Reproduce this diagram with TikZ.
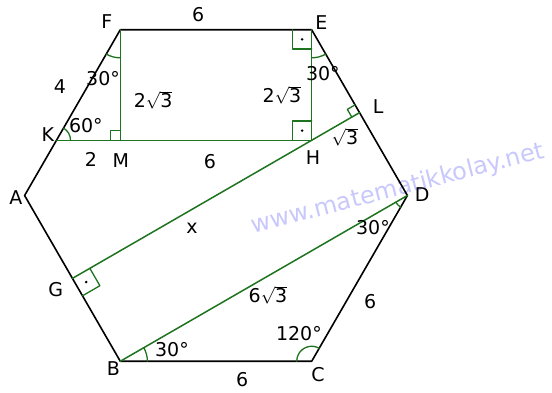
\documentclass[tikz,border=0pt]{standalone}
\usepackage{fontspec}
\setmainfont{DejaVu Sans}
\definecolor{hexgreen}{RGB}{30,115,30}
\definecolor{hexmark}{RGB}{200,200,252}
\newcommand{\rootof}[1]{$\sqrt{\mbox{#1}}$}

\begin{document}
\begin{tikzpicture}[x=31.9pt,y=31.9pt,line cap=round,line join=round,
  font=\fontsize{19}{21}\selectfont,
  side/.style={black,line width=1.6pt},
  seg/.style={hexgreen,line width=1.5pt},
  amark/.style={hexgreen,line width=1.3pt},
  lbl/.style={inner sep=1pt}]
 \useasboundingbox (-6.771,-6.160) rectangle (10.533,6.129);
 \node[rotate=14.5,text=hexmark,font=\fontsize{24}{26}\selectfont] (web) at (5.71,0.2) {www.matematikkolay.net};
 % hexagon and inner points
 \coordinate (A) at (-6,0);
 \coordinate (B) at (-3,-5.196);
 \coordinate (C) at (3,-5.196);
 \coordinate (D) at (6,0);
 \coordinate (E) at (3,5.196);
 \coordinate (F) at (-3,5.196);
 \coordinate (K) at (-5,1.732);
 \coordinate (M) at (-3,1.732);
 \coordinate (H) at (3,1.732);
 \coordinate (L) at (4.5,2.598);
 \coordinate (G) at (-4.5,-2.598);
 \draw[side] (A)--(B)--(C)--(D)--(E)--(F)--cycle;
 \draw[seg] (F)--(M);
 \draw[seg] (E)--(H);
 \draw[seg] (K)--(H);
 \draw[seg] (G)--(L);
 \draw[seg] (B)--(D);
 % angles
 \draw[amark] (F) ++(240:0.88) arc[start angle=240,end angle=270,radius=0.88];
 \draw[amark] (E) ++(270:0.88) arc[start angle=270,end angle=300,radius=0.88];
 \draw[amark] (K) ++(0:0.44) arc[start angle=0,end angle=60,radius=0.44];
 \draw[amark] (B) ++(0:0.85) arc[start angle=0,end angle=30,radius=0.85];
 \draw[amark] (C) ++(60:0.47) arc[start angle=60,end angle=180,radius=0.47];
 \draw[amark] (D) ++(210:0.42) arc[start angle=210,end angle=240,radius=0.42];
 % right angles
 \draw[amark] (M) ++(180:0.31) -- ++(90:0.31) -- ++(0:0.31);
 \draw[amark] (E) ++(180:0.6) -- ++(270:0.6) -- ++(0:0.6);
 \draw[amark] (H) ++(180:0.6) -- ++(90:0.6) -- ++(0:0.6);
 \draw[amark] (L) ++(210:0.28) -- ++(120:0.28) -- ++(30:0.28);
 \draw[amark] (G) ++(30:0.63) -- ++(300:0.63) -- ++(210:0.63);
 \fill (E) ++(-0.3,-0.3) circle (1.4pt);
 \fill (H) ++(-0.3,0.3) circle (1.4pt);
 \fill (G) ++(30:0.315) ++(300:0.315) circle (1.4pt);
 % labels
 \node[lbl] (lA) at (-6.27,-0.08) {A};
 \node[lbl] (lB) at (-3.22,-5.44) {B};
 \node[lbl] (lC) at (3.2,-5.6) {C};
 \node[lbl] (lD) at (6.46,0.02) {D};
 \node[lbl] (lE) at (3.3,5.42) {E};
 \node[lbl] (lF) at (-3.42,5.44) {F};
 \node[lbl] (lK) at (-5.27,1.9) {K};
 \node[lbl] (lM) at (-2.98,1.1) {M};
 \node[lbl] (lH) at (3.04,1.2) {H};
 \node[lbl] (lL) at (5.08,2.8) {L};
 \node[lbl] (lG) at (-5.02,-2.96) {G};
 \node[lbl] (sFE) at (-0.56,5.66) {6};
 \node[lbl] (sFK) at (-4.89,3.43) {4};
 \node[lbl] (sKM) at (-3.92,1.12) {2};
 \node[lbl] (sMH) at (-0.19,1.05) {6};
 \node[lbl] (sFM) at (-1.97,2.99) {2\rootof{3}};
 \node[lbl] (sEH) at (2.07,3.15) {2\rootof{3}};
 \node[lbl] (sHL) at (4.04,1.83) {\rootof{3}};
 \node[lbl] (sGL) at (-0.75,-1.02) {x};
 \node[lbl] (sBD) at (1.63,-3.12) {6\rootof{3}};
 \node[lbl] (sCD) at (4.83,-3.34) {6};
 \node[lbl] (sBC) at (0.82,-5.78) {6};
 \node[lbl] (aF) at (-3.54,3.68) {30°};
 \node[lbl] (aK) at (-4.08,2.18) {60°};
 \node[lbl] (aE) at (3.35,3.81) {30°};
 \node[lbl] (aD) at (4.92,-0.99) {30°};
 \node[lbl] (aC) at (2.6,-4.34) {120°};
 \node[lbl] (aB) at (-1.38,-4.84) {30°};
\end{tikzpicture}
\end{document}
